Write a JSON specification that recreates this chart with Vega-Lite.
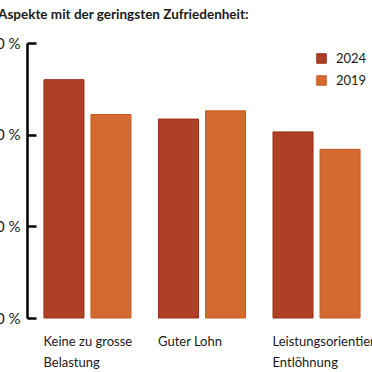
{
  "$schema": "https://vega.github.io/schema/vega-lite/v6.json",
  "autosize": {"type": "none"},
  "width": 350,
  "height": 275,
  "padding": {"left": 27, "top": 43, "right": 0, "bottom": 54},
  "background": "white",
  "title": {
    "text": "Aspekte mit der geringsten Zufriedenheit:",
    "anchor": "start",
    "frame": "group",
    "dx": -29,
    "offset": 15,
    "font": "Lato",
    "fontSize": 13.5,
    "fontWeight": "bold",
    "color": "#1a1a1a"
  },
  "data": {
    "values": [
      {"aspekt": "Keine zu grosse Belastung", "jahr": "2024", "anteil": 26.0},
      {"aspekt": "Keine zu grosse Belastung", "jahr": "2019", "anteil": 22.2},
      {"aspekt": "Guter Lohn", "jahr": "2024", "anteil": 21.7},
      {"aspekt": "Guter Lohn", "jahr": "2019", "anteil": 22.6},
      {"aspekt": "Leistungsorientierte Entlöhnung", "jahr": "2024", "anteil": 20.3},
      {"aspekt": "Leistungsorientierte Entlöhnung", "jahr": "2019", "anteil": 18.4}
    ]
  },
  "mark": {"type": "bar", "strokeWidth": 1},
  "encoding": {
    "x": {
      "field": "aspekt",
      "type": "nominal",
      "sort": null,
      "scale": {"paddingInner": 0.24, "paddingOuter": 0.148},
      "axis": {
        "title": null,
        "domain": false,
        "ticks": false,
        "labelAngle": 0,
        "labelAlign": "left",
        "labelBaseline": "top",
        "labelOffset": -44,
        "labelPadding": 17,
        "labelFont": "Lato",
        "labelFontSize": 13,
        "labelColor": "#1a1a1a",
        "labelLineHeight": 21,
        "labelLimit": 0,
        "labelExpr": "datum.label == 'Keine zu grosse Belastung' ? ['Keine zu grosse', 'Belastung'] : datum.label == 'Leistungsorientierte Entlöhnung' ? ['Leistungsorientierte', 'Entlöhnung'] : datum.label"
      }
    },
    "xOffset": {
      "field": "jahr",
      "type": "nominal",
      "sort": ["2024", "2019"],
      "scale": {"paddingInner": 0.149, "paddingOuter": 0}
    },
    "y": {
      "field": "anteil",
      "type": "quantitative",
      "scale": {"domain": [0, 30], "nice": false},
      "axis": {
        "title": null,
        "values": [0, 10, 20, 30],
        "labelExpr": "datum.value + ' %'",
        "grid": false,
        "domainColor": "#000000",
        "domainWidth": 2.5,
        "tickColor": "#000000",
        "tickWidth": 2.5,
        "tickSize": -9,
        "labelPadding": 16,
        "labelFont": "Lato",
        "labelFontSize": 15,
        "labelColor": "#1a1a1a"
      }
    },
    "color": {
      "field": "jahr",
      "type": "nominal",
      "sort": ["2024", "2019"],
      "scale": {"domain": ["2024", "2019"], "range": ["#b04025", "#d46a30"]},
      "legend": {
        "title": null,
        "orient": "none",
        "legendX": 288,
        "legendY": 9,
        "symbolType": "square",
        "symbolSize": 90,
        "symbolStrokeWidth": 1,
        "labelFont": "Lato",
        "labelFontSize": 13,
        "labelColor": "#1a1a1a",
        "labelOffset": 8,
        "rowPadding": 7,
        "padding": 0
      }
    },
    "stroke": {
      "field": "jahr",
      "type": "nominal",
      "scale": {"domain": ["2024", "2019"], "range": ["#972f16", "#c65a22"]},
      "legend": null
    }
  },
  "config": {"view": {"stroke": null}}
}
